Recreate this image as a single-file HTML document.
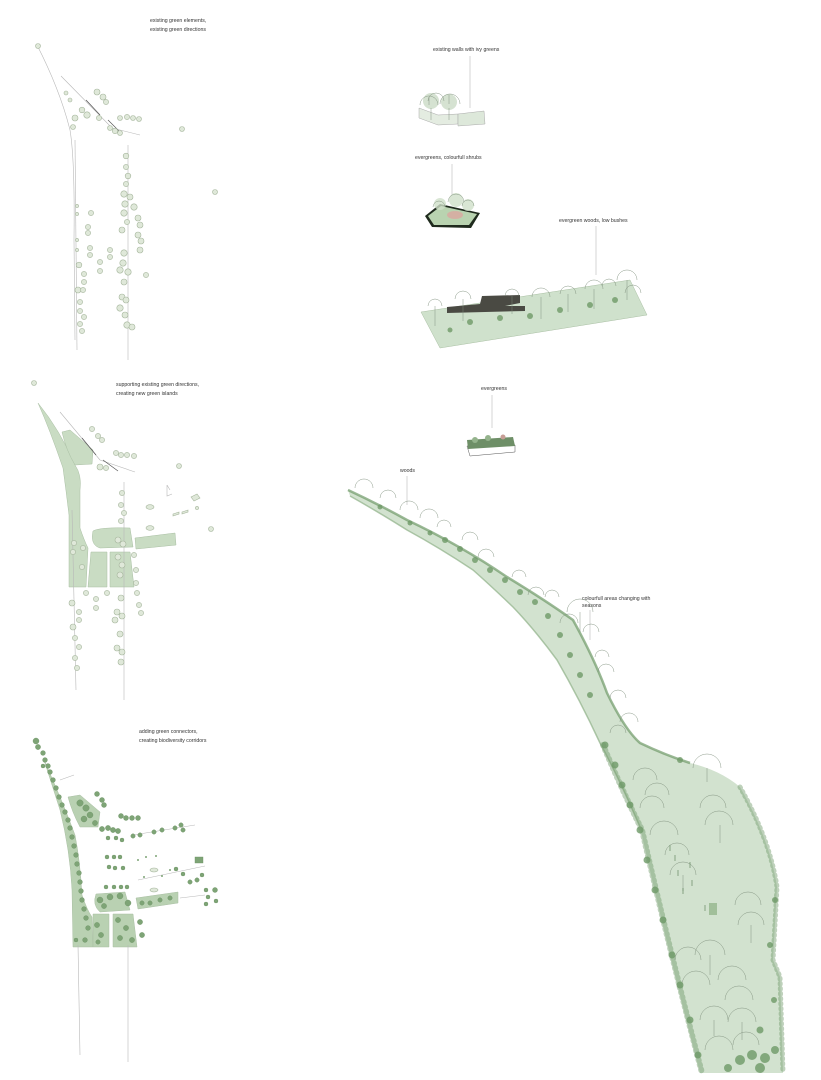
<!DOCTYPE html>
<html><head><meta charset="utf-8"><style>
html,body{margin:0;padding:0;background:#fff;}
svg{display:block}
text{font-family:"Liberation Sans",sans-serif;font-size:5.2px;fill:#333;}
.t{fill:#dfe8d9;stroke:#a5b59c;stroke-width:.6}
.d{fill:#7ea476;stroke:#6b9263;stroke-width:.4}
.a{stroke:#b8b8b8;stroke-width:.6;fill:none}
.g{fill:#c9dcc3;stroke:#a9bfa3;stroke-width:.5}
.f{fill:none;stroke:#7d8d7b;stroke-width:.45}
.s{fill:#6f9a68;opacity:.8}
</style></head><body>
<svg width="821" height="1080" viewBox="0 0 821 1080" xmlns="http://www.w3.org/2000/svg">
<!-- MAP 1 -->
<text x="150" y="22">existing green elements,</text>
<text x="150" y="31">existing green directions</text>
<path class="a" d="M37,45 Q60,90 70,130 Q75,160 74,240 L75,340"/>
<path class="a" d="M61,76 L112,128 L140,135"/>
<path class="a" d="M75,140 L77,350"/>
<path class="a" d="M128,145 L128,360"/>
<path d="M86,100 L100,115 M108,120 L122,134" stroke="#555" stroke-width=".7"/>
<g class="t">
<circle cx="38" cy="46" r="2.5"/><circle cx="66" cy="93" r="2"/><circle cx="70" cy="100" r="2"/>
<circle cx="97" cy="92" r="3"/><circle cx="103" cy="97" r="3"/><circle cx="106" cy="102" r="2.6"/>
<circle cx="82" cy="110" r="2.8"/><circle cx="87" cy="115" r="3.2"/><circle cx="75" cy="118" r="3"/><circle cx="73" cy="127" r="2.5"/>
<circle cx="99" cy="118" r="2.6"/><circle cx="110" cy="128" r="2.5"/><circle cx="115" cy="131" r="2.7"/><circle cx="120" cy="133" r="2.5"/>
<circle cx="120" cy="118" r="2.5"/><circle cx="127" cy="117" r="2.6"/><circle cx="133" cy="118" r="2.5"/><circle cx="139" cy="119" r="2.5"/>
<circle cx="182" cy="129" r="2.5"/><circle cx="215" cy="192" r="2.5"/>
<circle cx="126" cy="156" r="2.8"/><circle cx="126" cy="167" r="2.6"/><circle cx="128" cy="176" r="2.8"/><circle cx="126" cy="184" r="2.6"/>
<circle cx="124" cy="194" r="3.2"/><circle cx="130" cy="197" r="3"/><circle cx="125" cy="204" r="3.2"/><circle cx="134" cy="207" r="3.2"/>
<circle cx="124" cy="213" r="3.2"/><circle cx="138" cy="218" r="3"/><circle cx="140" cy="225" r="3"/><circle cx="127" cy="222" r="2.6"/>
<circle cx="122" cy="230" r="3"/><circle cx="138" cy="235" r="3"/><circle cx="141" cy="241" r="3"/><circle cx="140" cy="250" r="3"/>
<circle cx="124" cy="253" r="3.2"/><circle cx="123" cy="263" r="3.2"/><circle cx="120" cy="270" r="3.2"/><circle cx="128" cy="272" r="3.2"/>
<circle cx="124" cy="282" r="3"/><circle cx="122" cy="297" r="3"/><circle cx="126" cy="300" r="3"/><circle cx="120" cy="308" r="3.2"/>
<circle cx="125" cy="315" r="3"/><circle cx="127" cy="325" r="3.2"/><circle cx="132" cy="327" r="3"/><circle cx="146" cy="275" r="2.6"/>
<circle cx="91" cy="213" r="2.6"/><circle cx="88" cy="227" r="2.6"/><circle cx="88" cy="233" r="2.6"/><circle cx="90" cy="248" r="2.6"/><circle cx="90" cy="255" r="2.6"/>
<circle cx="110" cy="250" r="2.6"/><circle cx="110" cy="257" r="2.6"/><circle cx="100" cy="262" r="2.6"/><circle cx="100" cy="271" r="2.6"/>
<circle cx="79" cy="265" r="2.8"/><circle cx="84" cy="274" r="2.6"/><circle cx="84" cy="282" r="2.6"/><circle cx="78" cy="290" r="3"/><circle cx="83" cy="290" r="2.6"/>
<circle cx="80" cy="302" r="2.6"/><circle cx="80" cy="311" r="2.6"/><circle cx="84" cy="317" r="2.6"/><circle cx="80" cy="324" r="2.6"/><circle cx="82" cy="331" r="2.6"/>
<circle cx="77" cy="206" r="1.6"/><circle cx="77" cy="214" r="1.6"/><circle cx="77" cy="240" r="1.6"/><circle cx="77" cy="250" r="1.6"/>
</g>
<!-- MAP 2 -->
<text x="116" y="386">supporting existing green directions,</text>
<text x="116" y="395">creating new green islands</text>
<path class="g" d="M38,403 Q60,430 75,465 Q82,475 80,490 L80,528 Q84,540 88,548 L86,587 L69,587 L69,515 Q66,490 63,468 Q50,430 38,403Z"/>
<path class="g" d="M62,432 L70,430 L93,450 L92,464 L75,465 Q66,450 62,432Z"/>
<path class="g" d="M93,531 Q100,527 130,528 L133,547 L100,548 Q90,545 93,531Z"/>
<path class="g" d="M91,552 L107,552 L107,587 L88,587Z"/>
<path class="g" d="M110,552 L130,552 L134,587 L110,587Z"/>
<path class="g" d="M135,538 L175,533 L176,545 L136,549Z"/>
<path class="a" d="M60,412 L100,460 L135,472"/>
<path class="a" d="M72,510 L76,690"/>
<path class="a" d="M124,482 L124,700"/>
<path class="a" d="M167,485 L170,490 M167,485 L167,496 L172,494"/>
<path d="M82,438 L96,455 M103,460 L118,471" stroke="#555" stroke-width=".7"/>
<g class="t">
<circle cx="34" cy="383" r="2.5"/><circle cx="92" cy="429" r="2.6"/><circle cx="98" cy="436" r="2.6"/><circle cx="102" cy="440" r="2.6"/>
<circle cx="116" cy="453" r="2.6"/><circle cx="121" cy="455" r="2.6"/><circle cx="127" cy="455" r="2.6"/><circle cx="134" cy="456" r="2.6"/>
<circle cx="100" cy="467" r="3"/><circle cx="106" cy="468" r="2.6"/><circle cx="179" cy="466" r="2.5"/><circle cx="211" cy="529" r="2.5"/>
<ellipse cx="150" cy="507" rx="4" ry="2.3"/><ellipse cx="150" cy="528" rx="4" ry="2.3"/><path d="M191,497 l6,-3 l3,4 l-6,3z"/>
<path d="M173,514 l6,-2 v2 l-6,2z"/><path d="M182,512 l6,-2 v2 l-6,2z"/><circle cx="197" cy="508" r="1.6"/>
<circle cx="122" cy="493" r="2.6"/><circle cx="121" cy="505" r="2.6"/><circle cx="124" cy="513" r="2.6"/><circle cx="121" cy="521" r="2.6"/>
<circle cx="118" cy="540" r="3"/><circle cx="123" cy="544" r="3"/><circle cx="118" cy="557" r="3"/><circle cx="122" cy="565" r="3"/>
<circle cx="120" cy="575" r="3"/><circle cx="134" cy="555" r="2.6"/><circle cx="136" cy="570" r="2.6"/><circle cx="136" cy="583" r="2.6"/>
<circle cx="74" cy="543" r="2.6"/><circle cx="73" cy="552" r="2.6"/><circle cx="83" cy="548" r="2.6"/><circle cx="82" cy="567" r="2.6"/>
<circle cx="72" cy="603" r="3"/><circle cx="79" cy="612" r="2.6"/><circle cx="79" cy="620" r="2.6"/><circle cx="73" cy="627" r="3"/>
<circle cx="75" cy="638" r="2.6"/><circle cx="79" cy="647" r="2.6"/><circle cx="75" cy="658" r="2.6"/><circle cx="77" cy="668" r="2.6"/>
<circle cx="86" cy="593" r="2.6"/><circle cx="96" cy="599" r="2.6"/><circle cx="96" cy="608" r="2.6"/><circle cx="107" cy="593" r="2.6"/>
<circle cx="121" cy="598" r="3"/><circle cx="117" cy="612" r="3"/><circle cx="122" cy="616" r="3"/><circle cx="115" cy="620" r="3"/>
<circle cx="120" cy="634" r="3"/><circle cx="117" cy="648" r="3"/><circle cx="122" cy="652" r="3"/><circle cx="121" cy="662" r="3"/>
<circle cx="137" cy="593" r="2.6"/><circle cx="139" cy="605" r="2.6"/><circle cx="141" cy="613" r="2.6"/>
</g>
<!-- MAP 3 -->
<text x="139" y="733">adding green connectors,</text>
<text x="139" y="742">creating biodiversity corridors</text>
<path class="g" style="fill:#b9d1b2" d="M44,760 Q62,800 75,835 Q80,860 82,895 Q87,910 92,917 L93,947 L73,947 L72,890 Q70,850 60,810 Q52,785 44,760Z"/>
<path class="g" style="fill:#b9d1b2" d="M68,797 L80,795 L100,812 L98,827 L80,827 Q72,812 68,797Z"/>
<path class="g" style="fill:#b9d1b2" d="M96,894 L125,892 L130,910 L100,912 Q92,905 96,894Z"/>
<path class="g" style="fill:#b9d1b2" d="M93,914 L109,914 L109,947 L93,947Z"/>
<path class="g" style="fill:#b9d1b2" d="M113,914 L133,914 L137,947 L113,947Z"/>
<path class="g" style="fill:#b9d1b2" d="M136,898 L178,892 L178,903 L138,909Z"/>
<path class="a" d="M60,780 L74,775 M78,945 L80,1055 M128,945 L128,1062 M133,835 L195,825 M138,880 L205,866 M180,898 L205,895"/>
<g class="d">
<circle cx="36" cy="741" r="3"/><circle cx="38" cy="747" r="2.6"/><circle cx="43" cy="753" r="2.4"/><circle cx="45" cy="760" r="2.4"/><circle cx="48" cy="766" r="2.4"/>
<circle cx="43" cy="766" r="2"/><circle cx="50" cy="772" r="2.4"/><circle cx="53" cy="780" r="2.4"/><circle cx="56" cy="788" r="2.4"/><circle cx="59" cy="797" r="2.4"/>
<circle cx="62" cy="805" r="2.4"/><circle cx="65" cy="812" r="2.4"/><circle cx="68" cy="820" r="2.4"/><circle cx="70" cy="828" r="2.4"/><circle cx="72" cy="837" r="2.4"/>
<circle cx="74" cy="846" r="2.4"/><circle cx="76" cy="855" r="2.4"/><circle cx="77" cy="864" r="2.4"/><circle cx="79" cy="873" r="2.4"/><circle cx="80" cy="882" r="2.4"/>
<circle cx="81" cy="891" r="2.4"/><circle cx="82" cy="900" r="2.4"/><circle cx="84" cy="909" r="2.4"/><circle cx="86" cy="918" r="2.4"/><circle cx="88" cy="928" r="2.4"/>
<circle cx="76" cy="940" r="2"/><circle cx="85" cy="940" r="2.4"/>
<circle cx="80" cy="803" r="3.2"/><circle cx="86" cy="808" r="3.2"/><circle cx="90" cy="815" r="3"/><circle cx="84" cy="819" r="3"/><circle cx="95" cy="823" r="2.6"/>
<circle cx="97" cy="794" r="2.5"/><circle cx="102" cy="800" r="2.5"/><circle cx="104" cy="805" r="2.5"/>
<circle cx="121" cy="816" r="2.5"/><circle cx="126" cy="818" r="2.5"/><circle cx="132" cy="818" r="2.5"/><circle cx="138" cy="818" r="2.5"/>
<circle cx="102" cy="829" r="2.6"/><circle cx="108" cy="828" r="2.6"/><circle cx="113" cy="830" r="2.6"/><circle cx="118" cy="831" r="2.6"/>
<circle cx="133" cy="836" r="2.2"/><circle cx="140" cy="835" r="2.2"/><circle cx="154" cy="832" r="2.2"/><circle cx="162" cy="830" r="2.2"/>
<circle cx="175" cy="828" r="2.2"/><circle cx="181" cy="825" r="2.2"/><circle cx="183" cy="830" r="2.2"/>
<circle cx="108" cy="838" r="2"/><circle cx="116" cy="838" r="2"/><circle cx="122" cy="840" r="2"/>
<circle cx="107" cy="857" r="2"/><circle cx="114" cy="857" r="2"/><circle cx="120" cy="857" r="2"/>
<circle cx="109" cy="867" r="2"/><circle cx="115" cy="868" r="2"/><circle cx="123" cy="868" r="2"/>
<circle cx="106" cy="887" r="2"/><circle cx="114" cy="887" r="2"/><circle cx="121" cy="887" r="2"/><circle cx="127" cy="887" r="2"/>
<circle cx="100" cy="900" r="3"/><circle cx="110" cy="897" r="3"/><circle cx="120" cy="896" r="3"/><circle cx="128" cy="903" r="3"/><circle cx="104" cy="906" r="2.6"/>
<circle cx="97" cy="925" r="2.6"/><circle cx="101" cy="935" r="2.6"/><circle cx="98" cy="942" r="2.2"/><circle cx="118" cy="920" r="2.6"/><circle cx="126" cy="928" r="2.6"/>
<circle cx="120" cy="938" r="2.6"/><circle cx="132" cy="940" r="2.6"/><circle cx="140" cy="922" r="2.6"/><circle cx="142" cy="935" r="2.6"/>
<circle cx="142" cy="903" r="2.2"/><circle cx="150" cy="903" r="2.2"/><circle cx="160" cy="900" r="2.2"/><circle cx="170" cy="898" r="2.2"/>
<circle cx="190" cy="882" r="2.2"/><circle cx="197" cy="880" r="2.2"/><circle cx="202" cy="875" r="2"/><circle cx="206" cy="890" r="2"/>
<circle cx="208" cy="897" r="2"/><circle cx="216" cy="901" r="2"/><circle cx="206" cy="904" r="2"/><circle cx="215" cy="890" r="2.5"/>
<rect x="195" y="857" width="8" height="6"/><circle cx="176" cy="869" r="2"/><circle cx="183" cy="874" r="2"/>
</g>
<g class="t"><ellipse cx="154" cy="870" rx="4" ry="2"/><ellipse cx="154" cy="890" rx="4" ry="2"/></g>
<g fill="#7ea476"><circle cx="138" cy="860" r="1"/><circle cx="146" cy="857" r="1"/><circle cx="156" cy="856" r="1"/><circle cx="144" cy="877" r="1"/><circle cx="162" cy="876" r="1"/><circle cx="170" cy="870" r="1"/></g>

<!-- RIGHT: isometric pieces -->
<text x="433" y="51">existing walls with ivy greens</text>
<line class="a" x1="470" y1="56" x2="470" y2="108"/>
<path d="M419,108 L438,115 L458,114 L458,124 L438,125 L419,118Z" fill="#e4ece1" stroke="#aaa" stroke-width=".5"/>
<path d="M458,114 L484,111 L485,124 L458,126Z" fill="#dde8da" stroke="#aaa" stroke-width=".5"/>
<circle cx="431" cy="101" r="8" fill="#c3d6bd" opacity=".7"/><circle cx="449" cy="102" r="8" fill="#c3d6bd" opacity=".7"/>
<g class="f"><path d="M420,105 a9,9 0 0 1 18,0 M428,101 a8,8 0 0 1 16,0 M440,104 a10,10 0 0 1 20,0"/><path d="M429,105 l0,-8 M449,104 l0,-9 M431,108 v12 M449,108 v12"/></g>
<text x="415" y="159">evergreens, colourfull shrubs</text>
<line class="a" x1="452" y1="164" x2="452" y2="195"/>
<path d="M425,216 L440,204 L480,213 L471,228 L432,227Z" fill="#1f2a1d"/>
<path d="M428,216 L441,206 L477,214 L469,225 L434,225Z" fill="#b9d3b0"/>
<ellipse cx="455" cy="215" rx="8" ry="4" fill="#dba8a0" opacity=".8"/>
<circle cx="440" cy="204" r="6" fill="#cfe0c9" opacity=".8"/><circle cx="456" cy="200" r="7" fill="#cfe0c9" opacity=".8"/><circle cx="468" cy="205" r="6" fill="#cfe0c9" opacity=".8"/>
<g class="f"><path d="M433,207 a6,6 0 0 1 12,0 M448,202 a8,8 0 0 1 16,0 M462,206 a6,6 0 0 1 12,0"/></g>
<text x="559" y="222">evergreen woods, low bushes</text>
<line class="a" x1="596" y1="226" x2="596" y2="275"/>
<path d="M421,312 L630,280 L647,315 L440,348Z" fill="#cfe1cc" stroke="#a9bfa3" stroke-width=".5"/>
<path d="M447,307 L480,304 L482,296 L520,295 L520,303 L505,306 L525,306 L525,311 L447,313Z" fill="#4a4a43"/>
<g class="f">
<path d="M428,306 a7,7 0 0 1 14,0 M455,299 a8,8 0 0 1 16,0 M505,296 a7,7 0 0 1 14,0 M532,297 a9,9 0 0 1 18,0 M560,294 a8,8 0 0 1 16,0 M585,289 a9,9 0 0 1 18,0 M602,286 a7,7 0 0 1 14,0 M617,280 a10,10 0 0 1 20,0 M625,293 a8,8 0 0 1 16,0"/>
<path d="M435,306 v20 M463,299 v22 M512,296 v18 M541,297 v22 M568,294 v18 M594,289 v20 M627,280 v20"/>
</g>
<g class="s"><circle cx="470" cy="322" r="3"/><circle cx="500" cy="318" r="3"/><circle cx="530" cy="316" r="3"/><circle cx="560" cy="310" r="3"/><circle cx="590" cy="305" r="3"/><circle cx="615" cy="300" r="3"/><circle cx="450" cy="330" r="2.5"/></g>
<text x="481" y="390">evergreens</text>
<line class="a" x1="492" y1="395" x2="492" y2="428"/>
<path d="M467,446 L515,445 L515,452 L470,456Z" fill="#fff" stroke="#555" stroke-width=".5"/>
<path d="M467,440 L513,437 L515,446 L468,449Z" fill="#6e8f67"/>
<circle cx="475" cy="440" r="3" fill="#94b38c"/><circle cx="488" cy="438" r="3" fill="#94b38c"/><circle cx="503" cy="437" r="2.5" fill="#c79e96"/>

<!-- big strip -->
<text x="400" y="472">woods</text>
<line class="a" x1="407" y1="476" x2="407" y2="505"/>
<text x="582" y="600">colourfull areas changing with</text>
<text x="582" y="607">seasons</text>
<line class="a" x1="590" y1="610" x2="590" y2="640"/>
<path d="M348,490 Q380,505 407,520 Q460,545 507,577 Q545,600 573,620 Q595,660 607,693 Q625,730 640,743 Q665,755 690,763 Q720,770 740,787 Q770,840 777,887 L773,960 L780,977 L783,1073 L700,1073 Q670,960 640,827 Q620,780 600,743 Q580,700 557,660 Q535,630 513,607 Q490,585 473,570 Q440,548 407,530 Q375,510 350,496Z" fill="#d2e2cf"/>
<path d="M348,490 Q380,505 407,520 Q460,545 507,577 Q545,600 573,620 Q595,660 607,693 Q625,730 640,743 Q665,755 690,763" fill="none" stroke="#6f9a68" stroke-width="2.5" opacity=".7"/>
<path d="M640,827 Q620,780 600,743 Q580,700 557,660 Q535,630 513,607 Q490,585 473,570 Q440,548 407,530 Q375,510 350,496" fill="none" stroke="#8fb088" stroke-width="1.5" opacity=".7"/>
<path d="M603,745 Q622,790 642,830 Q672,960 702,1073" fill="none" stroke="#6f9a68" stroke-width="6" opacity=".45" stroke-linecap="round" stroke-dasharray="1 4"/>
<path d="M740,787 Q770,840 777,887 L773,960 L780,977 L783,1073" fill="none" stroke="#6f9a68" stroke-width="5" opacity=".45" stroke-linecap="round" stroke-dasharray="1 4"/>
<g class="s" opacity=".6"><circle cx="740" cy="1060" r="5"/><circle cx="752" cy="1055" r="5"/><circle cx="765" cy="1058" r="5"/><circle cx="775" cy="1050" r="4"/><circle cx="760" cy="1068" r="5"/><circle cx="728" cy="1068" r="4"/></g>
<g class="f">
<path d="M355,488 a9,9 0 0 1 18,0 M380,498 a8,8 0 0 1 16,0 M400,510 a9,9 0 0 1 18,0 M420,518 a9,9 0 0 1 18,0 M437,527 a7,7 0 0 1 14,0 M462,540 a8,8 0 0 1 16,0 M478,557 a8,8 0 0 1 16,0 M512,577 a7,7 0 0 1 14,0 M528,595 a8,8 0 0 1 16,0 M545,597 a7,7 0 0 1 14,0"/>
<path d="M567,612 a13,13 0 0 1 26,0 M560,623 a9,9 0 0 1 18,0 M583,632 a8,8 0 0 1 16,0 M595,657 a7,7 0 0 1 14,0 M598,672 a8,8 0 0 1 16,0 M610,698 a8,8 0 0 1 16,0 M620,722 a9,9 0 0 1 18,0 M610,733 a8,8 0 0 1 16,0"/>
<path d="M693,768 a14,14 0 0 1 28,0 M633,780 a12,12 0 0 1 24,0 M645,795 a12,12 0 0 1 24,0 M640,808 a12,12 0 0 1 24,0 M700,808 a13,13 0 0 1 26,0 M705,825 a14,14 0 0 1 28,0"/>
<path d="M650,835 a14,14 0 0 1 28,0 M665,855 a12,12 0 0 1 24,0 M670,875 a13,13 0 0 1 26,0 M735,905 a13,13 0 0 1 26,0 M738,925 a13,13 0 0 1 26,0"/>
<path d="M675,960 a13,13 0 0 1 26,0 M695,955 a15,15 0 0 1 30,0 M682,985 a14,14 0 0 1 28,0 M718,980 a14,14 0 0 1 28,0 M725,1000 a14,14 0 0 1 28,0"/>
<path d="M700,1020 a14,14 0 0 1 28,0 M728,1022 a14,14 0 0 1 28,0 M705,1050 a14,14 0 0 1 28,0 M733,1045 a13,13 0 0 1 26,0"/>
<path d="M707,768 v14 M720,825 v18 M683,875 v16 M751,925 v18 M710,955 v20 M714,1020 v16 M742,1022 v18 M580,612 v20"/>
</g>
<g class="s">
<circle cx="380" cy="507" r="2.5"/><circle cx="410" cy="523" r="2.5"/><circle cx="430" cy="533" r="2.5"/><circle cx="445" cy="540" r="3"/><circle cx="460" cy="549" r="3"/>
<circle cx="475" cy="560" r="3"/><circle cx="490" cy="570" r="3"/><circle cx="505" cy="580" r="3"/><circle cx="520" cy="592" r="3"/><circle cx="535" cy="602" r="3"/>
<circle cx="548" cy="616" r="3"/><circle cx="560" cy="635" r="3"/><circle cx="570" cy="655" r="3"/><circle cx="580" cy="675" r="3"/><circle cx="590" cy="695" r="3"/>
<circle cx="605" cy="745" r="3.5"/><circle cx="615" cy="765" r="3.5"/><circle cx="622" cy="785" r="3.5"/><circle cx="630" cy="805" r="3.5"/><circle cx="640" cy="830" r="3.5"/>
<circle cx="647" cy="860" r="3.5"/><circle cx="655" cy="890" r="3.5"/><circle cx="663" cy="920" r="3.5"/><circle cx="672" cy="955" r="3.5"/><circle cx="680" cy="985" r="3.5"/>
<circle cx="690" cy="1020" r="3.5"/><circle cx="698" cy="1055" r="3.5"/><circle cx="775" cy="900" r="3"/><circle cx="770" cy="945" r="3"/><circle cx="774" cy="1000" r="3"/>
<circle cx="760" cy="1030" r="3.5"/><circle cx="680" cy="760" r="3"/>
</g>
<g stroke="#557a50" stroke-width=".6"><path d="M670,845 v6 M675,855 v6 M678,870 v6 M690,862 v6 M692,880 v6 M705,905 v6 M683,888 v6"/></g>
<rect x="709" y="903" width="8" height="12" fill="#8bb083" opacity=".7"/>
</svg>
</body></html>
